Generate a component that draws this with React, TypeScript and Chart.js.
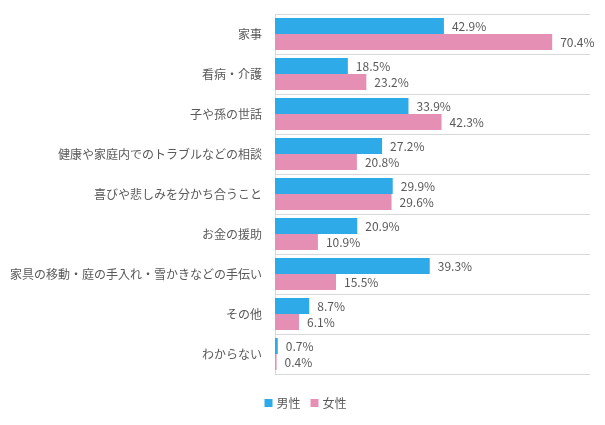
import React, { useEffect, useRef } from "react";
import { Chart, registerables } from "chart.js";

Chart.register(...registerables);

const categories = [
  "家事",
  "看病・介護",
  "子や孫の世話",
  "健康や家庭内でのトラブルなどの相談",
  "喜びや悲しみを分かち合うこと",
  "お金の援助",
  "家具の移動・庭の手入れ・雪かきなどの手伝い",
  "その他",
  "わからない",
];
const maleValues = [42.9, 18.5, 33.9, 27.2, 29.9, 20.9, 39.3, 8.7, 0.7];
const femaleValues = [70.4, 23.2, 42.3, 20.8, 29.6, 10.9, 15.5, 6.1, 0.4];
const seriesNames = ["男性", "女性"];
const seriesColors = ["#2EAAE8", "#E58FB5"];
const xMax = 80;

const FONT = '"Noto Sans CJK JP", "Noto Sans", sans-serif';
const TEXT = "#595959";

const labelPlugin = {
  id: "barLabels",
  afterDatasetsDraw(chart: any) {
    const ctx = chart.ctx;
    ctx.save();
    ctx.font = `12px ${FONT}`;
    ctx.fillStyle = TEXT;
    ctx.textBaseline = "middle";
    ctx.textAlign = "left";
    chart.data.datasets.forEach((ds: any, di: number) => {
      const meta = chart.getDatasetMeta(di);
      meta.data.forEach((el: any, i: number) => {
        const v = ds.data[i];
        ctx.fillText(v.toFixed(1) + "%", el.x + 8, el.y);
      });
    });
    ctx.restore();
  },
};

const legendPlugin = {
  id: "customLegend",
  afterDraw(chart: any) {
    const ctx = chart.ctx;
    ctx.save();
    ctx.font = `12px ${FONT}`;
    ctx.textBaseline = "middle";
    ctx.textAlign = "left";
    const box = 8;
    const gap = 4;
    const itemGap = 10;
    const items = chart.data.datasets.map((ds: any) => ({
      label: ds.label,
      color: ds.backgroundColor,
      w: box + gap + ctx.measureText(ds.label).width,
    }));
    const total = items.reduce((s: number, it: any) => s + it.w, 0) + itemGap * (items.length - 1);
    let x = chart.width / 2 - total / 2 + 3;
    const y = 403;
    items.forEach((it: any) => {
      ctx.fillStyle = it.color;
      ctx.fillRect(x, y - box / 2, box, box);
      ctx.fillStyle = TEXT;
      ctx.fillText(it.label, x + box + gap, y);
      x += it.w + itemGap;
    });
    ctx.restore();
  },
};

export default function App() {
  const ref = useRef<HTMLCanvasElement>(null);
  useEffect(() => {
    document.body.style.margin = "0";
    const chart = new Chart(ref.current!, {
      type: "bar",
      data: {
        labels: categories,
        datasets: [
          {
            label: seriesNames[0],
            data: maleValues,
            backgroundColor: seriesColors[0],
            categoryPercentage: 0.8,
            barPercentage: 1.0,
          },
          {
            label: seriesNames[1],
            data: femaleValues,
            backgroundColor: seriesColors[1],
            categoryPercentage: 0.8,
            barPercentage: 1.0,
          },
        ],
      },
      options: {
        indexAxis: "y",
        animation: false,
        responsive: false,
        devicePixelRatio: 1,
        layout: { padding: { top: 14, right: 15, left: 0, bottom: 51 } },
        scales: {
          x: {
            display: false,
            min: 0,
            max: xMax,
          },
          y: {
            afterFit(scale: any) {
              scale.width = 275;
              scale.paddingTop = 0;
              scale.paddingBottom = 0;
            },
            grid: {
              color: "#d9d9d9",
              drawTicks: false,
              offset: true,
            },
            border: { display: true, color: "#d9d9d9" },
            ticks: {
              padding: 13,
              color: TEXT,
              font: { family: FONT, size: 12 },
            },
          },
        },
        plugins: {
          legend: { display: false },
          tooltip: { enabled: false },
        },
      },
      plugins: [labelPlugin, legendPlugin],
    });
    return () => chart.destroy();
  }, []);
  return (
    <div style={{ position: "absolute", left: 0, top: 0, width: 605, height: 425 }}>
      <canvas ref={ref} width={605} height={425} />
    </div>
  );
}
